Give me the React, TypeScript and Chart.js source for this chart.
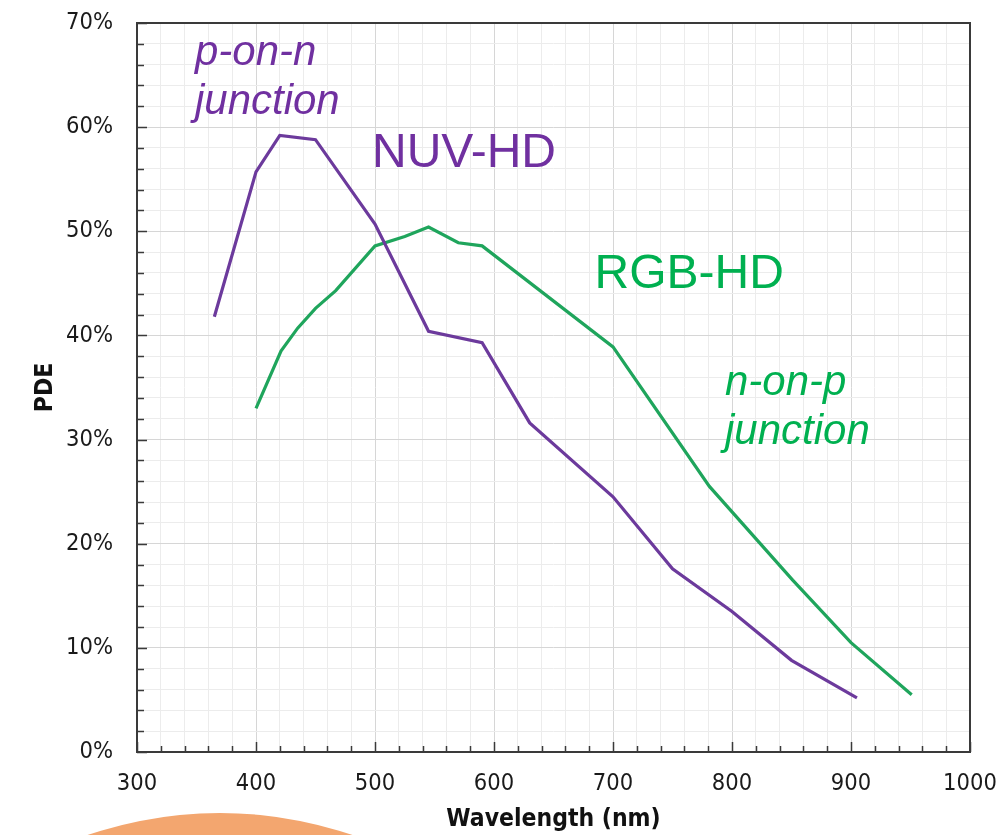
import React, { useEffect, useRef } from 'react';
import { Chart, registerables } from 'chart.js';

Chart.register(...registerables);

// ---- data ----
const nuvWavelength = [365, 400, 420, 450, 500, 545, 590, 630, 700, 750, 800, 850, 905];
const nuvPde = [41.8, 55.7, 59.2, 58.8, 50.7, 40.4, 39.3, 31.6, 24.5, 17.6, 13.5, 8.8, 5.2];

const rgbWavelength = [400, 421, 435, 450, 467, 500, 525, 545, 570, 590, 700, 781, 851, 900, 951];
const rgbPde = [33.0, 38.5, 40.7, 42.6, 44.3, 48.6, 49.5, 50.4, 48.9, 48.6, 38.9, 25.5, 16.5, 10.5, 5.5];

const xMin = 300;
const xMax = 1000;
const xStep = 20;
const xLabelEvery = 100;
const yMin = 0;
const yMax = 70;
const yStep = 2;
const yLabelEvery = 10;

const xTitle = 'Wavelength (nm)';
const yTitle = 'PDE';

const PURPLE_LINE = '#6C3A9C';
const PURPLE_TEXT = '#7030A0';
const GREEN_LINE = '#1FA55C';
const GREEN_TEXT = '#00B050';

const annotations = [
  { lines: ['p-on-n', 'junction'], x: 348.7, y: 66.0, color: PURPLE_TEXT, italic: true },
  { lines: ['NUV-HD'], x: 497.5, y: 56.2, color: PURPLE_TEXT, italic: false },
  { lines: ['RGB-HD'], x: 684.5, y: 44.6, color: GREEN_TEXT, italic: false },
  { lines: ['n-on-p', 'junction'], x: 794.1, y: 34.3, color: GREEN_TEXT, italic: true },
];

const TICK_FONT = "'DejaVu Sans Condensed', 'DejaVu Sans', sans-serif";

const framePlugin = {
  id: 'framePlugin',
  afterDraw(chart: any) {
    const { ctx, chartArea: a, scales } = chart;
    const xs = scales.x;
    const ys = scales.y;
    ctx.save();
    // tick marks pointing inward
    ctx.strokeStyle = '#3a3a3a';
    ctx.lineWidth = 1.5;
    ctx.beginPath();
    for (let v = xMin; v <= xMax; v += xStep) {
      const px = Math.round(xs.getPixelForValue(v)) + 0.5;
      const len = v % xLabelEvery === 0 ? 10 : 6;
      ctx.moveTo(px, a.bottom);
      ctx.lineTo(px, a.bottom - len);
    }
    for (let v = yMin; v <= yMax; v += yStep) {
      const py = Math.round(ys.getPixelForValue(v)) + 0.5;
      const len = v % yLabelEvery === 0 ? 10 : 7;
      ctx.moveTo(a.left, py);
      ctx.lineTo(a.left + len, py);
    }
    ctx.stroke();
    // frame
    ctx.strokeStyle = '#3a3a3a';
    ctx.lineWidth = 2;
    ctx.strokeRect(a.left, a.top, a.right - a.left, a.bottom - a.top);

    // annotations
    for (const an of annotations) {
      const size = an.italic ? 42 : 48;
      ctx.font = `${an.italic ? 'italic ' : ''}${size}px 'Liberation Sans', Arial, sans-serif`;
      ctx.fillStyle = an.color;
      ctx.textAlign = 'left';
      ctx.textBaseline = 'alphabetic';
      const px = xs.getPixelForValue(an.x);
      const py = ys.getPixelForValue(an.y);
      an.lines.forEach((ln, i) => {
        ctx.fillText(ln, px, py + i * 49.3);
      });
    }
    ctx.restore();
  },
};

const zeroPad = (s: any) => {
  s.paddingTop = 0;
  s.paddingBottom = 0;
  s.paddingLeft = 0;
  s.paddingRight = 0;
};

export default function App() {
  const canvasRef = useRef<HTMLCanvasElement | null>(null);

  useEffect(() => {
    if (!canvasRef.current) return;
    const chart = new Chart(canvasRef.current, {
      type: 'line',
      data: {
        datasets: [
          {
            label: 'NUV-HD',
            data: nuvWavelength.map((w, i) => ({ x: w, y: nuvPde[i] })),
            borderColor: PURPLE_LINE,
            borderWidth: 3.2,
            pointRadius: 0,
            tension: 0,
            fill: false,
          },
          {
            label: 'RGB-HD',
            data: rgbWavelength.map((w, i) => ({ x: w, y: rgbPde[i] })),
            borderColor: GREEN_LINE,
            borderWidth: 3.2,
            pointRadius: 0,
            tension: 0,
            fill: false,
          },
        ],
      },
      options: {
        animation: false,
        responsive: true,
        maintainAspectRatio: false,
        layout: { padding: { top: 23, right: 34, left: 0, bottom: 0 } },
        plugins: {
          legend: { display: false },
          tooltip: { enabled: false },
        },
        scales: {
          x: {
            type: 'linear',
            min: xMin,
            max: xMax,
            afterFit: (s: any) => {
              s.height = 83;
              zeroPad(s);
            },
            border: { display: false },
            grid: {
              drawTicks: false,
              color: (c: any) => (c.tick && c.tick.value % xLabelEvery === 0 ? '#d6d6d6' : '#ececec'),
              lineWidth: 1,
            },
            ticks: {
              stepSize: xStep,
              autoSkip: false,
              maxRotation: 0,
              padding: 18,
              color: '#1a1a1a',
              font: { family: TICK_FONT, size: 23.5 },
              callback: (v: any) => (Number(v) % xLabelEvery === 0 ? String(v) : ''),
            },
            title: {
              display: true,
              text: xTitle,
              color: '#111',
              font: { family: TICK_FONT, size: 24.5, weight: 'bold' },
              padding: { top: 0, bottom: 1 },
            },
          },
          y: {
            type: 'linear',
            min: yMin,
            max: yMax,
            afterFit: (s: any) => {
              s.width = 137;
              zeroPad(s);
            },
            border: { display: false },
            grid: {
              drawTicks: false,
              color: (c: any) => (c.tick && c.tick.value % yLabelEvery === 0 ? '#d6d6d6' : '#ececec'),
              lineWidth: 1,
            },
            ticks: {
              stepSize: yStep,
              autoSkip: false,
              padding: 24,
              color: '#1a1a1a',
              font: { family: TICK_FONT, size: 23.5 },
              callback: (v: any) => (Number(v) % yLabelEvery === 0 ? `${v}%` : ''),
            },
            title: {
              display: true,
              text: yTitle,
              color: '#111',
              font: { family: TICK_FONT, size: 24.5, weight: 'bold' },
              padding: { top: 31, bottom: 0 },
            },
          },
        },
      },
      plugins: [framePlugin],
    } as any);
    return () => chart.destroy();
  }, []);

  return (
    <div
      style={{
        position: 'fixed',
        left: 0,
        top: 0,
        width: 1004,
        height: 835,
        overflow: 'hidden',
        background: '#ffffff',
      }}
    >
      <div
        style={{
          position: 'absolute',
          left: -190,
          top: 813,
          width: 820,
          height: 820,
          borderRadius: '50%',
          background: '#F3A66F',
        }}
      />
      <div style={{ position: 'absolute', left: 0, top: 0, width: 1004, height: 835 }}>
        <canvas ref={canvasRef} />
      </div>
    </div>
  );
}
